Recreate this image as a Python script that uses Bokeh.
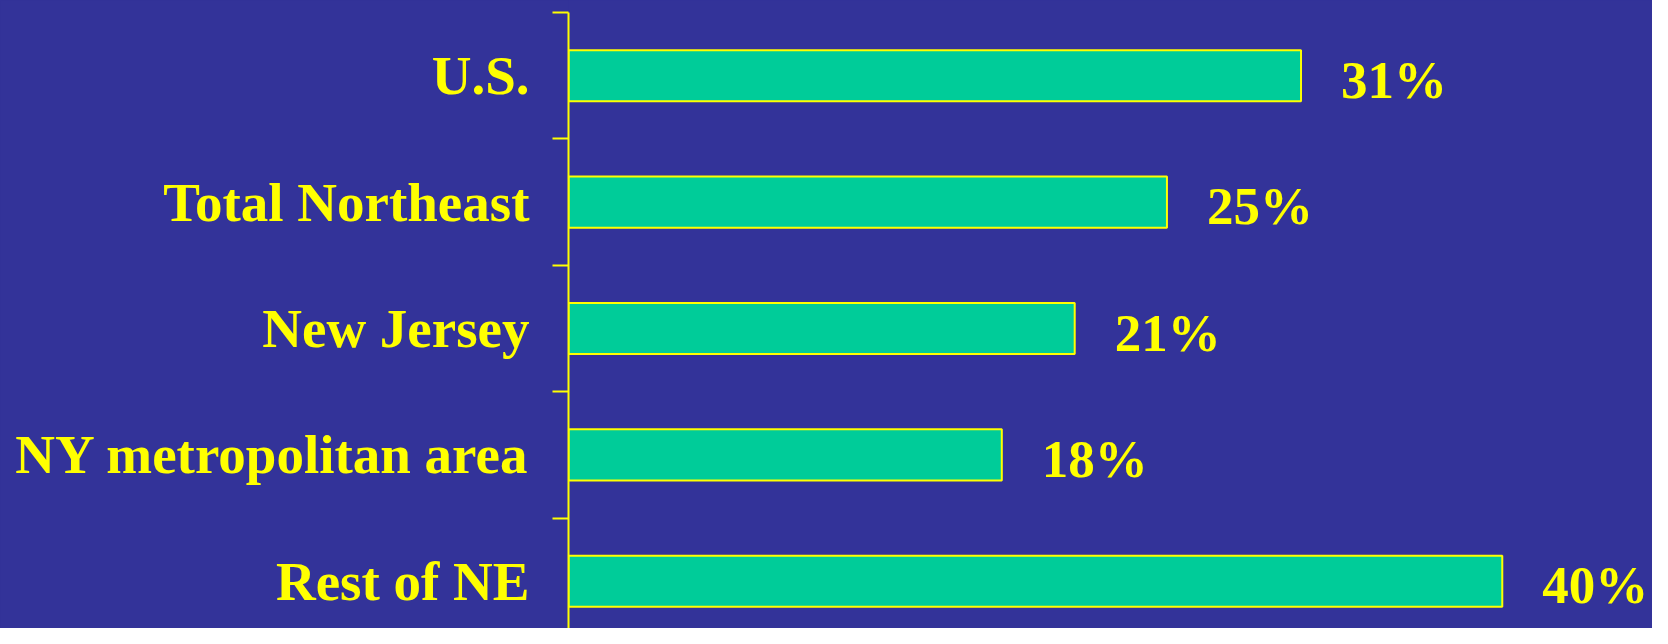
import numpy as np
from bokeh.plotting import figure
from bokeh.models import Range1d, FixedTicker, ColumnDataSource
from bokeh.core.properties import value
from bokeh.embed import file_html
from bokeh.resources import INLINE

# ---- data ----
categories = ["U.S.", "Total Northeast", "New Jersey", "NY metropolitan area", "Rest of NE"]
bar_values = [30.65, 25.04, 21.18, 18.13, 39.07]   # bar lengths (%)
value_labels = ["31%", "25%", "21%", "18%", "40%"]

# ---- style ----
BG = "#333399"
BAR = "#00CC99"
YEL = "#FFFF00"
FONT = "Liberation Serif"

n = len(categories)
centers = (np.arange(n)[::-1] + 0.5).tolist()
bounds = np.arange(1, n + 1).tolist()

W, H = 1652, 628
top_gap = 12
band_px = 126.4
px_per_unit = 23.9
left_pad = 568

y_end = n + top_gap / band_px
y_start = y_end - H / band_px

p = figure(width=W, height=H, output_backend="svg", toolbar_location=None,
           x_range=Range1d(0, (W - left_pad) / px_per_unit),
           y_range=Range1d(y_start, y_end),
           min_border_left=left_pad, min_border_right=0,
           min_border_top=0, min_border_bottom=0)
p.styles = {"background-color": BG}
p.background_fill_color = BG
p.border_fill_color = BG
p.outline_line_color = None
p.xgrid.visible = False
p.ygrid.visible = False
p.xaxis.visible = False

src = ColumnDataSource(dict(y=centers, v=bar_values, lab=value_labels))
p.hbar(y="y", right="v", left=0, height=0.404, source=src,
       fill_color=BAR, line_color=YEL, line_width=2)

p.text(x="v", y="y", text="lab", source=src, x_offset=40, y_offset=4,
       text_align="left", text_baseline="alphabetic",
       text_font=value(FONT), text_font_style="bold", text_font_size="53px",
       text_color=YEL)

ax = p.yaxis[0]
ax.bounds = (y_start, n)
ax.ticker = FixedTicker(ticks=centers, minor_ticks=bounds)
ax.major_label_overrides = {c: cat for c, cat in zip(centers, categories)}
ax.axis_line_color = YEL
ax.axis_line_width = 2
ax.major_tick_line_color = None
ax.major_tick_out = 0
ax.major_tick_in = 0
ax.minor_tick_line_color = YEL
ax.minor_tick_line_width = 2
ax.minor_tick_out = 16
ax.minor_tick_in = 0
ax.major_label_standoff = 23
ax.major_label_text_font = FONT
ax.major_label_text_font_style = "bold"
ax.major_label_text_font_size = "55px"
ax.major_label_text_color = YEL

open("out.html", "w").write(file_html(p, INLINE))
